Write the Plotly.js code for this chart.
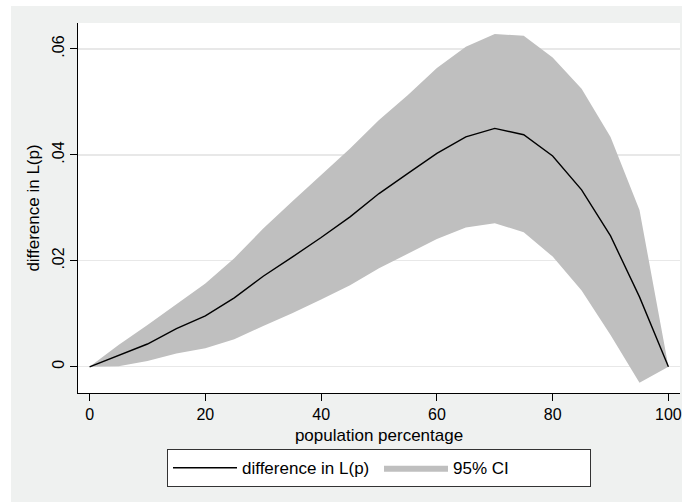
<!DOCTYPE html>
<html>
<head>
<meta charset="utf-8">
<script src="https://cdn.plot.ly/plotly-3.0.1.min.js"></script>
<style>
  html, body { margin: 0; padding: 0; background: #ffffff; }
  #chart { position: absolute; left: 11px; top: 6px; width: 671px; height: 496px; }
</style>
</head>
<body>
<div id="chart"></div>
<script>
// Population percentage (x)
const popPct = [0, 5, 10, 15, 20, 25, 30, 35, 40, 45, 50, 55, 60, 65, 70, 75, 80, 85, 90, 95, 100];
// Difference in L(p) (point estimate)
const diffLp = [0, 0.0021, 0.0043, 0.0072, 0.0096, 0.0130, 0.0171, 0.0207, 0.0244, 0.0283, 0.0327,
                0.0365, 0.0403, 0.0434, 0.0450, 0.0438, 0.0398, 0.0334, 0.0247, 0.0132, 0];
// 95% CI upper bound
const ciUpper = [0, 0.0041, 0.0079, 0.0118, 0.0157, 0.0205, 0.0261, 0.0312, 0.0362, 0.0412, 0.0466,
                 0.0513, 0.0564, 0.0604, 0.0628, 0.0625, 0.0584, 0.0525, 0.0434, 0.0296, 0];
// 95% CI lower bound
const ciLower = [0, 0.0001, 0.0011, 0.0025, 0.0035, 0.0052, 0.0077, 0.0101, 0.0127, 0.0154, 0.0186,
                 0.0214, 0.0241, 0.0263, 0.0271, 0.0254, 0.0208, 0.0144, 0.0060, -0.0030, 0];

const xTickVals = [0, 20, 40, 60, 80, 100];
const xTickText = ["0", "20", "40", "60", "80", "100"];
const yTickVals = [0, 0.02, 0.04, 0.06];
const yTickText = ["0", ".02", ".04", ".06"];

const FONT = "Liberation Sans, Arial, Helvetica, sans-serif";

const traces = [
  {
    x: popPct, y: ciLower, type: "scatter", mode: "lines",
    line: { width: 0, color: "#bfbfbf" },
    showlegend: false, hoverinfo: "skip"
  },
  {
    x: popPct, y: ciUpper, type: "scatter", mode: "lines",
    fill: "tonexty", fillcolor: "#bfbfbf",
    line: { width: 0, color: "#bfbfbf" },
    name: "95% CI", legendrank: 2
  },
  {
    x: popPct, y: diffLp, type: "scatter", mode: "lines",
    line: { width: 1.4, color: "#000000" },
    name: "difference in L(p)", legendrank: 1
  }
];

const layout = {
  width: 671, height: 496,
  margin: { l: 67, r: 2, t: 17, b: 109 },
  paper_bgcolor: "#eff1f0",
  plot_bgcolor: "#ffffff",
  font: { family: FONT, size: 16, color: "#000000" },
  showlegend: true,
  xaxis: {
    range: [-2, 102],
    tickvals: xTickVals, ticktext: xTickText,
    ticks: "outside", ticklen: 7, tickwidth: 1, tickcolor: "#000000",
    showline: true, linecolor: "#000000", linewidth: 1,
    showgrid: false, zeroline: false,
    tickfont: { family: FONT, size: 16, color: "#000000" },
    title: { text: "population percentage", font: { family: FONT, size: 17, color: "#000000" }, standoff: 6 }
  },
  yaxis: {
    range: [-0.00495, 0.0649],
    tickvals: yTickVals, ticktext: yTickText,
    tickangle: -90,
    ticks: "outside", ticklen: 7, tickwidth: 1, tickcolor: "#000000",
    showline: true, linecolor: "#000000", linewidth: 1,
    showgrid: true, gridcolor: "#e8e8e8", gridwidth: 1.2,
    zeroline: false,
    tickfont: { family: FONT, size: 16, color: "#000000" },
    title: { text: "difference in L(p)", font: { family: FONT, size: 17, color: "#000000" }, standoff: 5 }
  },
  legend: {
    orientation: "h",
    x: 0.5, xanchor: "center",
    y: -0.152, yanchor: "top",
    bgcolor: "#ffffff", bordercolor: "#333333", borderwidth: 1,
    font: { family: FONT, size: 17, color: "#000000" },
    itemwidth: 64,
    entrywidth: 132,
    traceorder: "normal"
  }
};

Plotly.newPlot("chart", traces, layout, { staticPlot: true, displayModeBar: false });
</script>
</body>
</html>
